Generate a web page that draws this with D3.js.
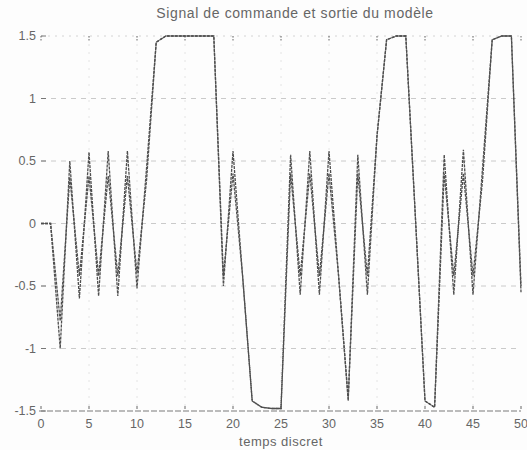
<!DOCTYPE html>
<html lang="fr">
<head>
<meta charset="UTF-8">
<title>Signal de commande et sortie du modèle</title>
<script src="https://d3js.org/d3.v7.min.js"></script>
<style>
    body {
        margin: 0;
        padding: 0;
        background: #fdfdfd;
        font-family: "Liberation Sans", Arial, sans-serif;
    }
    .grid line {
        stroke: #cacaca;
        stroke-width: 1px;
        stroke-dasharray: 5,5;
    }
    .tick-label {
        font-size: 12.5px;
        fill: #666;
    }
    .serie {
        fill: none;
        stroke: #4f4f4f;
        stroke-width: 1.3px;
        stroke-dasharray: 3,1;
    }
</style>
</head>
<body>
<div id="chart"></div>
<script>
    // temps discret 0..50
    const temps = d3.range(0, 51);

    // sortie du modèle
    const sortie = [
        0, 0, -1.0, 0.5, -0.6, 0.57, -0.58, 0.58, -0.58, 0.58,
        -0.52, 0.45, 1.45, 1.5, 1.5, 1.5, 1.5, 1.5, 1.5, -0.5,
        0.58, -0.42, -1.42, -1.47, -1.48, -1.48, 0.55, -0.57, 0.58, -0.57,
        0.58, -0.42, -1.42, 0.55, -0.57, 0.7, 1.47, 1.5, 1.5, 0.05,
        -1.42, -1.47, 0.55, -0.57, 0.59, -0.57, 0.45, 1.47, 1.5, 1.5,
        -0.55
    ];

    // signal de commande
    const commande = [
        0, 0, -0.78, 0.37, -0.42, 0.38, -0.42, 0.38, -0.42, 0.38,
        -0.4, 0.35, 1.45, 1.5, 1.5, 1.5, 1.5, 1.5, 1.5, -0.42,
        0.4, -0.42, -1.42, -1.47, -1.48, -1.48, 0.4, -0.42, 0.4, -0.42,
        0.4, -0.42, -1.4, 0.4, -0.42, 0.7, 1.47, 1.5, 1.5, 0.05,
        -1.42, -1.47, 0.4, -0.42, 0.4, -0.42, 0.35, 1.47, 1.5, 1.5,
        -0.5
    ];

    const xTicks = [0, 5, 10, 15, 20, 25, 30, 35, 40, 45, 50];
    const yTicks = [-1.5, -1, -0.5, 0, 0.5, 1, 1.5];

    const width = 527, height = 450;
    const margin = {top: 36, right: 6, bottom: 39, left: 41};

    const svg = d3.select("#chart").append("svg")
        .attr("width", width)
        .attr("height", height);

    const x = d3.scaleLinear().domain([0, 50]).range([margin.left, width - margin.right]);
    const y = d3.scaleLinear().domain([-1.5, 1.5]).range([height - margin.bottom, margin.top]);

    // grille
    const grid = svg.append("g").attr("class", "grid");
    grid.selectAll(".h").data(yTicks.filter(d => d > -1.5 && d < 1.5)).join("line")
        .attr("x1", x(0)).attr("x2", x(50))
        .attr("y1", d => y(d)).attr("y2", d => y(d));
    grid.selectAll(".v").data(xTicks.filter(d => d > 0 && d < 50)).join("line")
        .attr("x1", d => x(d)).attr("x2", d => x(d))
        .attr("y1", y(1.5)).attr("y2", y(-1.5))
        .style("stroke", "#e4e4e4")
        .style("stroke-dasharray", "2,6");

    // haut du cadre, pointillé clair
    svg.append("line")
        .attr("x1", x(0)).attr("x2", x(50))
        .attr("y1", y(1.5)).attr("y2", y(1.5))
        .attr("stroke", "#d4d4d4")
        .attr("stroke-dasharray", "2,5");

    // axe du bas
    svg.append("line")
        .attr("x1", x(0) - 2).attr("x2", x(50))
        .attr("y1", y(-1.5)).attr("y2", y(-1.5))
        .attr("stroke", "#7a7a7a")
        .attr("stroke-width", 1.2)
        .attr("stroke-dasharray", "6,2");

    // graduations (vers l'intérieur, comme matlab)
    svg.append("g").selectAll("line").data(xTicks).join("line")
        .attr("x1", d => x(d)).attr("x2", d => x(d))
        .attr("y1", y(1.5)).attr("y2", y(1.5) + 5)
        .attr("stroke", "#666")
        .attr("stroke-dasharray", "1.5,1.5");
    svg.append("g").selectAll("line").data(xTicks).join("line")
        .attr("x1", d => x(d)).attr("x2", d => x(d))
        .attr("y1", y(-1.5) - 5).attr("y2", y(-1.5) - 2)
        .attr("stroke", "#666");
    svg.append("g").selectAll("line").data(yTicks).join("line")
        .attr("x1", x(0)).attr("x2", x(0) + 5)
        .attr("y1", d => y(d)).attr("y2", d => y(d))
        .attr("stroke", "#777");

    // libellés
    svg.append("g").selectAll("text").data(xTicks).join("text")
        .attr("class", "tick-label")
        .attr("x", d => x(d))
        .attr("y", y(-1.5) + 17)
        .attr("text-anchor", "middle")
        .text(d => d);
    svg.append("g").selectAll("text").data(yTicks).join("text")
        .attr("class", "tick-label")
        .attr("x", x(0) - 5)
        .attr("y", d => y(d))
        .attr("dy", "0.35em")
        .attr("text-anchor", "end")
        .text(d => d);

    // courbes
    const line = d3.line().x((d, i) => x(temps[i])).y(d => y(d));
    svg.append("path").datum(commande).attr("class", "serie").attr("d", line);
    svg.append("path").datum(sortie).attr("class", "serie").attr("d", line);

    svg.append("text")
        .attr("x", 295).attr("y", 18)
        .attr("text-anchor", "middle")
        .attr("font-size", 14)
        .attr("letter-spacing", 0.6)
        .attr("fill", "#666")
        .text("Signal de commande et sortie du modèle");

    svg.append("text")
        .attr("x", 281).attr("y", 446)
        .attr("text-anchor", "middle")
        .attr("font-size", 13)
        .attr("letter-spacing", 0.5)
        .attr("fill", "#666")
        .text("temps discret");
</script>
</body>
</html>
